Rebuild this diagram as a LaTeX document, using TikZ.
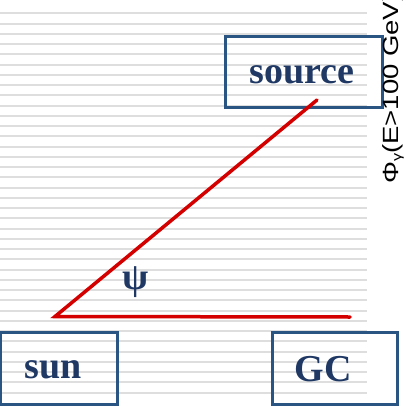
\documentclass[tikz,border=0pt]{standalone}
\usepackage{fontspec}
\setmainfont{Liberation Serif}
\newfontfamily\labelsans{Liberation Sans}
\definecolor{boxblue}{HTML}{2A5582}
\definecolor{txtblue}{HTML}{1F3864}
\definecolor{rulegray}{HTML}{DEDEDE}
\definecolor{angred}{HTML}{D40000}
\begin{document}
\begin{tikzpicture}[x=1pt,y=-1pt,
  frame/.style={draw=boxblue, line width=3pt, inner sep=0pt},
  boxtext/.style={text=txtblue, font=\fontsize{38}{40}\selectfont\bfseries, inner sep=0pt},
  ray/.style={draw=angred, line width=3.5pt, line cap=round},
  stripe/.style={draw=rulegray, line width=2pt}]
\useasboundingbox (0,0) rectangle (405,406);
% background stripes
\foreach \k in {0,...,37}{
  \draw[stripe] (0,{13.3+10.25*\k}) -- (367,{13.3+10.25*\k});
}
% boxes
\node[frame, minimum width=157pt, minimum height=71pt] (srcbox) at (303.5,72.5) {};
\node[frame, minimum width=117pt, minimum height=72pt] (sunbox) at (58.5,368) {};
\node[frame, minimum width=125pt, minimum height=72pt] (gcbox) at (334.5,368) {};
% texts
\node[boxtext] (srctxt) at (302,75) {source};
\node[boxtext] (suntxt) at (53,370) {sun};
\node[boxtext] (gctxt) at (323,369) {GC};
\node[boxtext] (psi) at (136,282) {ψ};
% angle rays
\coordinate (vertex) at (55,316.5);
\coordinate (srcend) at (317,100);
\coordinate (gcend) at (350,317);
\draw[ray] (srcend) -- (vertex) -- (gcend);
% rotated axis label
\node[rotate=90, anchor=base west, inner sep=0pt, font=\labelsans\fontsize{22}{24}\selectfont] (flux) at (398,184)
  {\scalebox{1.25}[1]{Φ\raisebox{-3pt}{\fontsize{13}{14}\selectfont γ}(E>100 GeV)}};
\end{tikzpicture}
\end{document}
